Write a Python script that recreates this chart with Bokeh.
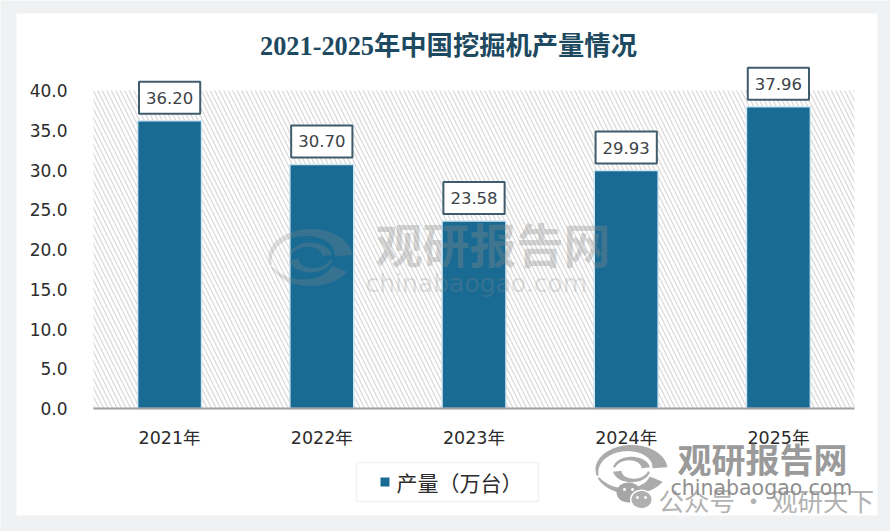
import numpy as np
from bokeh.embed import file_html
from bokeh.resources import INLINE
from bokeh.plotting import figure
from bokeh.models import (BoxAnnotation, Label, PolyAnnotation, FixedTicker,
                          NumeralTickFormatter, Range1d, ColumnDataSource)

categories = ["2021年", "2022年", "2023年", "2024年", "2025年"]
production = [36.20, 30.70, 23.58, 29.93, 37.96]
value_labels = ["36.20", "30.70", "23.58", "29.93", "37.96"]
y_ticks = [0, 5, 10, 15, 20, 25, 30, 35, 40]
title_text = "2021-2025年中国挖掘机产量情况"
legend_text = "产量（万台）"

W, H = 890, 531
L, R, T, B = 93, 854, 90, 408
BAR = "#1a6b94"
LEVEL = "annotation"

# The frame fills the canvas, so nothing is clipped; the ranges are chosen so that
# the five category slots and the 0-40 value scale land on the reference's plot area.
ux = (R - L) / len(categories)
uy = (B - T) / 40
p = figure(width=W, height=H,
           x_range=Range1d(-L / ux, (W - L) / ux),
           y_range=Range1d(-(H - B) / uy, B / uy),
           output_backend="svg", toolbar_location=None,
           min_border_left=0, min_border_right=0, min_border_top=0, min_border_bottom=0)
p.border_fill_color = "#eff1f2"
p.background_fill_color = "#eff1f2"
p.outline_line_color = None
p.grid.grid_line_color = None

def box(l, r, t, b, color, alpha=1.0, line=None, lw=1, level=LEVEL):
    p.add_layout(BoxAnnotation(left=l, right=r, top=t, bottom=b,
                               left_units="canvas", right_units="canvas",
                               top_units="canvas", bottom_units="canvas",
                               fill_color=color, fill_alpha=alpha, line_color=line, line_width=lw,
                               level=level))

box(16, 877, 13, 515, "#ffffff", level="underlay")

p.add_layout(BoxAnnotation(left=0, right=len(categories), bottom=0, top=40,
                           fill_color="#ffffff", line_color=None, level="underlay",
                           hatch_pattern="left_diagonal_line", hatch_color="#dcdcdc",
                           hatch_alpha=1.0, hatch_scale=9, hatch_weight=1.4))

positions = [i + 0.5 for i in range(len(categories))]
src = ColumnDataSource(dict(x=positions, y=production))
bars = p.vbar(x="x", top="y", width=0.42, source=src, fill_color=BAR,
              line_color="#cfe6f1", line_width=1.5)

for xp, v, t in zip(positions, production, value_labels):
    p.add_layout(Label(x=xp, y=v, text=t, y_offset=23,
                       text_align="center", text_baseline="middle", text_color="#3d4247",
                       text_font="DejaVu Sans", text_font_size="16.5px",
                       background_fill_color="#ffffff", border_line_color="#3f5c6c",
                       border_line_width=2, padding=(7, 10), level=LEVEL))

ax = p.yaxis[0]
ax.fixed_location = 0
ax.ticker = FixedTicker(ticks=y_ticks)
ax.formatter = NumeralTickFormatter(format="0.0")
ax.axis_line_color = None
ax.major_tick_line_color = None
ax.minor_tick_line_color = None
ax.major_label_standoff = 20
ax.major_label_text_font = "DejaVu Sans"
ax.major_label_text_font_size = "17px"
ax.major_label_text_color = "#2b2b2b"

xa = p.xaxis[0]
xa.fixed_location = 0
xa.bounds = (0, len(categories))
xa.ticker = FixedTicker(ticks=positions)
xa.major_label_overrides = dict(zip(positions, categories))
xa.axis_line_color = "#a0a0a0"
xa.axis_line_width = 2
xa.major_tick_line_color = None
xa.minor_tick_line_color = None
xa.major_label_standoff = 13
xa.major_label_text_font = "DejaVu Sans, Noto Sans CJK SC"
xa.major_label_text_font_size = "17.5px"
xa.major_label_text_color = "#2b2b2b"

def label(txt, x, y, size, color, font="Noto Sans CJK SC", style="normal", alpha=1.0, align="left"):
    p.add_layout(Label(x=x, y=y, x_units="canvas", y_units="canvas", text=txt,
                       text_font=font, text_font_size=f"{size}px", text_font_style=style,
                       text_color=color, text_alpha=alpha, text_align=align,
                       text_baseline="middle", level=LEVEL))

label(title_text, 448, 46, 26.3, "#1d4a60", font="Liberation Serif, Noto Sans CJK SC", style="bold", align="center")

def poly(xs, ys, color, alpha):
    p.add_layout(PolyAnnotation(xs=list(np.asarray(xs)), ys=list(np.asarray(ys)),
                                xs_units="canvas", ys_units="canvas", fill_color=color,
                                fill_alpha=alpha, line_color=None, level=LEVEL))

def crescent(cx, cy, s, a0, a1, t0, t1, color, alpha):
    # band between an outer ellipse arc and an inner one whose thickness runs from t0 to t1
    a = np.radians(np.linspace(a0, a1, 40))
    t = np.linspace(t0, t1, 40)
    xo, yo = cx + s * np.cos(a), cy - 0.68 * s * np.sin(a)
    xi, yi = cx + (s - t) * np.cos(a), cy - 0.68 * (s - t) * np.sin(a)
    poly(np.r_[xo, xi[::-1]], np.r_[yo, yi[::-1]], color, alpha)

def logo(cx, cy, s, color, alpha):
    crescent(cx, cy, s, 195, 5, 2, 0.42 * s, color, alpha)
    crescent(cx, cy, s, 200, 330, 2, 0.42 * s, color, alpha)
    crescent(cx, cy, 0.52 * s, 170, 10, 0.06 * s, 0.24 * s, color, alpha)
    crescent(cx, cy, 0.52 * s, 350, 190, 0.06 * s, 0.24 * s, color, alpha)

def ellipse(cx, cy, rx, ry, color, alpha=1.0):
    a = np.radians(np.linspace(0, 360, 40))
    poly(cx + rx * np.cos(a), cy + ry * np.sin(a), color, alpha)

logo(310, 257, 42, "#8a8a8a", 0.26)
label("观研报告网", 375, 242, 47, "#8a8a8a", style="bold", alpha=0.34)
label("chinabaogao.com", 365, 283, 25, "#8a8a8a", font="DejaVu Sans", alpha=0.25)

# legend
box(356, 538, 462, 501, "#ffffff", line="#d4d8da", lw=1.5)
box(380, 389, 477, 486, BAR)
label(legend_text, 396, 481, 21, "#2b2b2b")

logo(631, 469, 36, "#a2a2a2", 0.9)
label("观研报告网", 677, 458, 34, "#9a9a9a", style="bold")
ellipse(628, 492, 12, 10, "#a6a6a6")
ellipse(641, 499, 11.5, 10, "#ffffff")
ellipse(641, 499, 10, 8.5, "#b0b0b0")
for ex, ey, er in [(624, 489, 1.5), (632, 489, 1.5), (637, 497, 1.4), (645, 497, 1.4)]:
    ellipse(ex, ey, er, er, "#ffffff")
label("公众号 · 观研天下", 658, 499, 25.5, "#b2b2b2")
label("chinabaogao.com", 670, 487, 20.5, "#8f8f8f", font="DejaVu Sans")

open("out.html", "w").write(file_html(p, INLINE))
